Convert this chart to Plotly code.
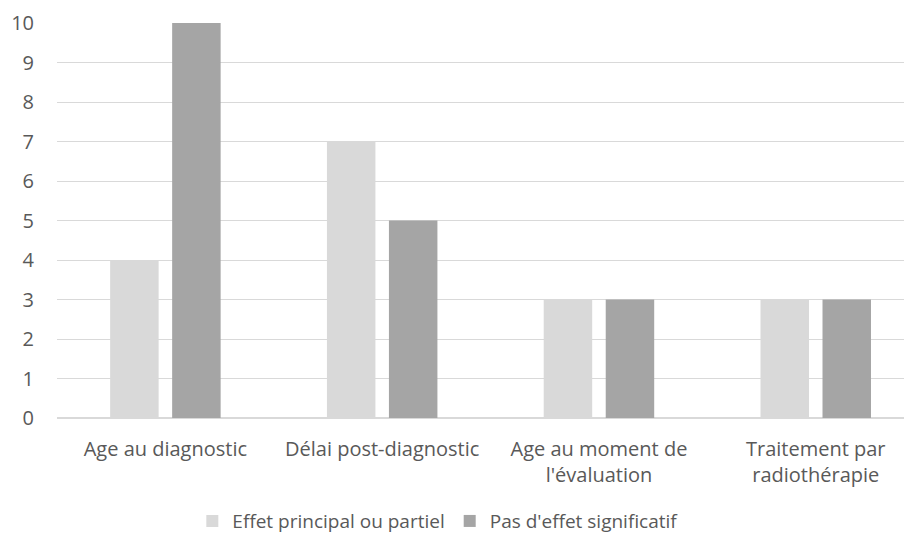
import plotly.graph_objects as go

categories = ["Age au diagnostic", "Délai post-diagnostic", "Age au moment de<br>l'évaluation", "Traitement par<br>radiothérapie"]
series_names = ["Effet principal ou partiel", "Pas d'effet significatif"]
effet_principal = [4, 7, 3, 3]
pas_effet = [10, 5, 3, 3]
y_ticks = list(range(0, 11))

FONT = "'Open Sans', sans-serif"
TXT = "#595959"

fig = go.Figure()
fig.add_trace(go.Bar(x=categories, y=effet_principal, name=series_names[0],
                     marker=dict(color="#d9d9d9", line=dict(width=0))))
fig.add_trace(go.Bar(x=categories, y=pas_effet, name=series_names[1],
                     marker=dict(color="#a5a5a5", line=dict(width=0))))

fig.update_layout(
    width=904, height=535,
    margin=dict(l=49, r=0, t=15, b=125, autoexpand=False),
    plot_bgcolor="white", paper_bgcolor="white",
    barmode="group", bargap=0.428, bargroupgap=0.218,
    font=dict(family=FONT, size=20, color=TXT),
    showlegend=True,
    legend=dict(orientation="h", x=0.446, xanchor="center", y=-0.261, yanchor="middle",
                font=dict(size=19, color=TXT), itemwidth=30, traceorder="normal"),
    xaxis=dict(range=[-0.5, 3.444], showgrid=False, showline=False, ticks="",
               automargin=False, tickfont=dict(size=20, color=TXT), ticklabelstandoff=17),
    yaxis=dict(range=[0, 10], tickvals=y_ticks, showgrid=True, gridcolor="#d9d9d9",
               gridwidth=1, zeroline=True, zerolinecolor="#d9d9d9", zerolinewidth=1.5,
               showline=False, ticks="", automargin=False,
               tickfont=dict(size=20, color=TXT), ticklabelstandoff=22),
)

fig.write_html("out.html")
